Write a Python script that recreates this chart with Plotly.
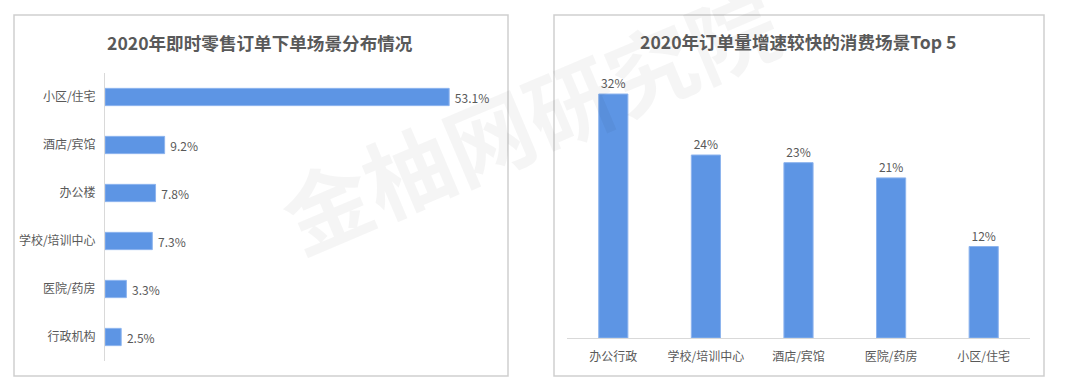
import plotly.graph_objects as go

# Left chart data
left_title = "2020年即时零售订单下单场景分布情况"
left_cats = ["小区/住宅", "酒店/宾馆", "办公楼", "学校/培训中心", "医院/药房", "行政机构"]
left_vals = [53.1, 9.2, 7.8, 7.3, 3.3, 2.5]

# Right chart data
right_title = "2020年订单量增速较快的消费场景Top 5"
right_cats = ["办公行政", "学校/培训中心", "酒店/宾馆", "医院/药房", "小区/住宅"]
right_vals = [32, 24, 23, 21, 12]

watermark = "金柚网研究院"

W, H = 1080, 389
BAR = "#5D95E4"
TXT = "#595959"
FONT = "Noto Sans CJK SC"

def px(x):
    return x / W

def py(y):
    return 1 - y / H

fig = go.Figure()

fig.add_trace(go.Bar(
    x=left_vals, y=left_cats, orientation="h",
    marker=dict(color=BAR, line=dict(color="#8DB4EE", width=1)),
    width=0.36,
    text=["\u00a0" + f"{v:.1f}%" for v in left_vals], textposition="outside",
    textfont=dict(size=12, color=TXT, family=FONT),
    cliponaxis=False, xaxis="x", yaxis="y", hoverinfo="skip",
))

fig.add_trace(go.Bar(
    x=right_cats, y=right_vals,
    marker=dict(color=BAR, line=dict(color="#8DB4EE", width=1)),
    width=0.315,
    text=[f"{v}%" for v in right_vals], textposition="outside",
    textfont=dict(size=12, color=TXT, family=FONT),
    cliponaxis=False, xaxis="x2", yaxis="y2", hoverinfo="skip",
))

fig.update_layout(
    width=W, height=H,
    margin=dict(l=0, r=0, t=0, b=0),
    paper_bgcolor="white", plot_bgcolor="rgba(0,0,0,0)",
    showlegend=False,
    font=dict(family=FONT, color=TXT, size=12),
    xaxis=dict(domain=[px(105), px(490)], range=[0, 59.4], visible=False, fixedrange=True),
    yaxis=dict(domain=[py(361), py(73)], autorange="reversed", showline=True,
               linecolor="#D9D9D9", linewidth=1, showgrid=False, ticks="",
               ticklabelstandoff=6, tickfont=dict(size=12, color=TXT, family=FONT),
               anchor="x"),
    xaxis2=dict(domain=[px(567), px(1030)], showline=True, linecolor="#D9D9D9", linewidth=1,
                showgrid=False, ticks="", ticklabelstandoff=8,
                tickfont=dict(size=12, color=TXT, family=FONT), anchor="y2"),
    yaxis2=dict(domain=[py(338), py(70)], range=[0, 35.15], visible=False, anchor="x2"),
    shapes=[
        dict(type="rect", xref="paper", yref="paper", x0=px(14), x1=px(508), y0=py(376), y1=py(15),
             line=dict(color="#CFCFCF", width=1.5), layer="below"),
        dict(type="rect", xref="paper", yref="paper", x0=px(554), x1=px(1044), y0=py(376), y1=py(15),
             line=dict(color="#CFCFCF", width=1.5), layer="below"),
    ],
    annotations=[
        dict(text=watermark, xref="paper", yref="paper", x=px(528), y=py(116),
             xanchor="center", yanchor="middle",
             showarrow=False, textangle=-23,
             font=dict(size=88, color="rgba(0,0,0,0.04)", family=FONT, weight="bold")),
        dict(text=f"<b>{left_title}</b>", xref="paper", yref="paper", x=px(260), y=py(43),
             xanchor="center", yanchor="middle",
             showarrow=False, font=dict(size=17.6, color=TXT, family=FONT)),
        dict(text=f"<b>{right_title}</b>", xref="paper", yref="paper", x=px(798), y=py(42),
             xanchor="center", yanchor="middle",
             showarrow=False, font=dict(size=17.6, color=TXT, family=FONT)),
    ],
)

fig.write_html("out.html")
